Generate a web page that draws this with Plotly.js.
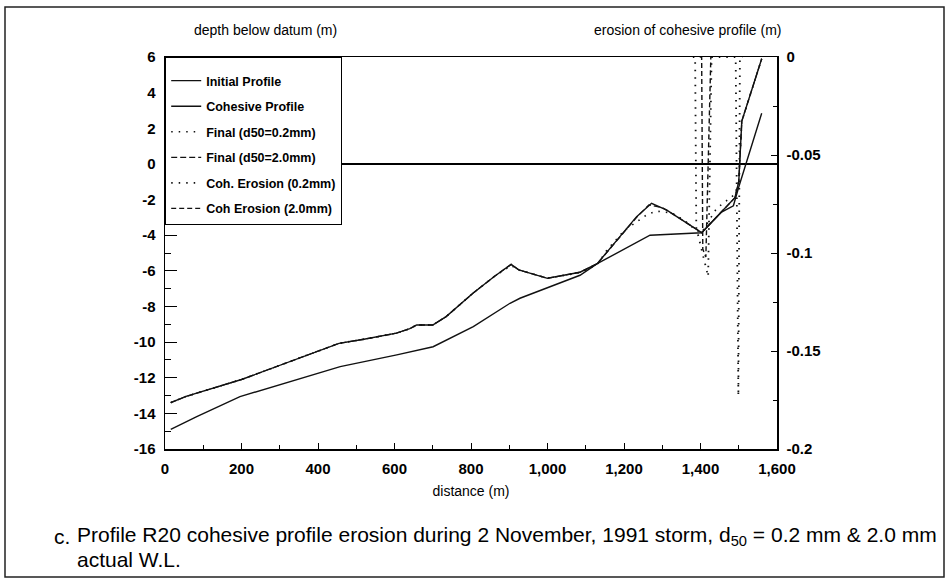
<!DOCTYPE html>
<html><head><meta charset="utf-8">
<script src="https://cdn.plot.ly/plotly-3.0.1.min.js"></script>
<style>html,body{margin:0;padding:0;background:#fff}#chart{width:951px;height:580px}</style>
</head><body><div id="chart"></div>
<script>
// ---- data ----
const initialDist  = [15, 55, 200, 300, 455, 520, 605, 640, 658, 700, 735, 805, 860, 905, 925, 1000, 1085, 1130, 1190, 1233, 1272, 1312, 1338, 1403, 1450, 1490, 1500, 1508, 1560];
const initialDepth = [-13.4, -13.05, -12.1, -11.3, -10.07, -9.84, -9.5, -9.25, -9.04, -9.04, -8.57, -7.26, -6.33, -5.64, -5.95, -6.42, -6.08, -5.6, -4.08, -2.96, -2.21, -2.59, -2.96, -3.86, -2.8, -1.9, -1.0, 2.4, 5.9];

const cohesiveDist  = [15, 83, 196, 301, 458, 606, 701, 806, 902, 928, 1085, 1130, 1268, 1403, 1455, 1486, 1500, 1560];
const cohesiveDepth = [-14.9, -14.18, -13.06, -12.4, -11.38, -10.72, -10.26, -9.13, -7.82, -7.54, -6.25, -5.6, -4.0, -3.86, -2.7, -2.35, -1.3, 2.84];

const final02Dist  = [15, 55, 200, 300, 455, 520, 605, 640, 658, 700, 735, 805, 860, 905, 925, 1000, 1085, 1130, 1155, 1200, 1242, 1260, 1285, 1325, 1360, 1386, 1403, 1442, 1490, 1500, 1508, 1560];
const final02Depth = [-13.4, -13.05, -12.1, -11.3, -10.07, -9.84, -9.5, -9.25, -9.04, -9.04, -8.57, -7.26, -6.33, -5.7, -5.95, -6.42, -6.1, -5.65, -4.85, -3.75, -3.1, -2.85, -2.65, -2.75, -3.2, -3.7, -3.86, -2.5, -1.7, -1.0, 2.4, 5.9];

const final20Dist  = [15, 55, 200, 300, 455, 520, 605, 640, 658, 700, 735, 805, 860, 905, 925, 1000, 1085, 1130, 1190, 1233, 1265, 1300, 1338, 1403, 1450, 1490, 1500, 1508, 1560];
const final20Depth = [-13.4, -13.05, -12.1, -11.3, -10.07, -9.84, -9.5, -9.25, -9.04, -9.04, -8.57, -7.26, -6.33, -5.64, -5.95, -6.42, -6.08, -5.6, -4.1, -3.0, -2.3, -2.45, -2.95, -3.86, -2.8, -1.9, -1.0, 2.4, 5.9];

const eros02Dist = [1380, 1386, 1389, 1420, 1429, 1492, 1499, 1503, 1510];
const eros02Val  = [0, 0, -0.087, -0.112, 0, 0, -0.173, 0, 0];
const eros20Dist = [1398, 1403, 1406, 1414, 1427, 1432];
const eros20Val  = [0, 0, -0.098, -0.102, 0, 0];

const xTickVals = [0, 200, 400, 600, 800, 1000, 1200, 1400, 1600];
const xTickText = ["0", "200", "400", "600", "800", "1,000", "1,200", "1,400", "1,600"];
const leftTickVals = [-16, -14, -12, -10, -8, -6, -4, -2, 0, 2, 4, 6];
const leftTickText = ["-16", "-14", "-12", "-10", "-8", "-6", "-4", "-2", "0", "2", "4", "6"];
const rightTickVals = [-0.2, -0.15, -0.1, -0.05, 0];
const rightTickText = ["-0.2", "-0.15", "-0.1", "-0.05", "0"];

// ---- layout helpers ----
const W = 951, H = 580;
const M = {l: 165, r: 174, t: 57, b: 131};
const PW = W - M.l - M.r, PH = H - M.t - M.b;
const px = p => (p - M.l) / PW;
const py = p => (H - M.b - p) / PH;

const FONT = 'Liberation Sans, Arial, Helvetica, sans-serif';
const tickFont = {family: FONT, size: 15, color: '#000', weight: 'bold'};
const ink = '#111';

const traces = [
  {x: initialDist, y: initialDepth, name: 'Initial Profile', mode: 'lines', legendgroup: 'g1',
   line: {color: ink, width: 1.4}},
  {x: cohesiveDist, y: cohesiveDepth, name: 'Cohesive Profile', mode: 'lines', legendgroup: 'g2',
   line: {color: ink, width: 1.4}},
  {x: final02Dist, y: final02Depth, name: 'Final (d50=0.2mm)', mode: 'lines', legendgroup: 'g3',
   line: {color: ink, width: 1.6, dash: '1.5px,6px'}},
  {x: final20Dist, y: final20Depth, name: 'Final (d50=2.0mm)', mode: 'lines', legendgroup: 'g4',
   line: {color: ink, width: 1.3, dash: '6px,3px'}},
  {x: eros02Dist, y: eros02Val, name: 'Coh. Erosion (0.2mm)', mode: 'lines', legendgroup: 'g5', yaxis: 'y2',
   line: {color: ink, width: 1.8, dash: '1.5px,6px'}},
  {x: eros20Dist, y: eros20Val, name: 'Coh Erosion (2.0mm)', mode: 'lines', legendgroup: 'g6', yaxis: 'y2',
   line: {color: ink, width: 1.4, dash: '5px,3px'}}
];

const annText = (text, x, y, size, xanchor) => ({
  text: text, xref: 'paper', yref: 'paper', x: px(x), y: py(y),
  xanchor: xanchor || 'center', yanchor: 'middle', showarrow: false,
  font: {family: FONT, size: size, color: '#000'}
});

const layout = {
  width: W, height: H,
  margin: M,
  paper_bgcolor: '#fff', plot_bgcolor: '#fff',
  showlegend: true,
  legend: {x: 0, y: 1, xanchor: 'left', yanchor: 'top', bgcolor: '#fff',
    bordercolor: '#000', borderwidth: 1.2, traceorder: 'grouped', tracegroupgap: 6.3,
    title: {text: '\u00a0', font: {family: FONT, size: 6, color: '#fff'}},
    font: {family: FONT, size: 12.5, color: '#000', weight: 'bold'}},
  xaxis: {range: [0, 1600], showline: true, linecolor: '#000', linewidth: 1.5, mirror: true,
    ticks: 'inside', ticklen: 6, tickcolor: '#000', tickwidth: 1,
    tickmode: 'array', tickvals: xTickVals, ticktext: xTickText, ticklabelstandoff: 5,
    minor: {ticks: 'inside', dtick: 100, ticklen: 4, tickcolor: '#000'},
    showgrid: false, zeroline: false, automargin: false, tickfont: tickFont,
    title: {text: 'distance (m)', font: {family: FONT, size: 14, color: '#000'}, standoff: 10}},
  yaxis: {range: [-16, 6], showline: true, linecolor: '#000', linewidth: 1.5,
    ticks: 'inside', ticklen: 12, tickcolor: '#000', tickwidth: 1,
    tickmode: 'array', tickvals: leftTickVals, ticktext: leftTickText, ticklabelstandoff: 5,
    minor: {ticks: 'inside', dtick: 1, ticklen: 6, tickcolor: '#000'},
    showgrid: false, zeroline: true, zerolinecolor: '#000', zerolinewidth: 1.8,
    automargin: false, tickfont: tickFont},
  yaxis2: {overlaying: 'y', side: 'right', range: [-0.2, 0], showline: true, linecolor: '#000', linewidth: 1.5,
    ticks: 'inside', ticklen: 6, tickcolor: '#000', tickwidth: 1,
    tickmode: 'array', tickvals: rightTickVals, ticktext: rightTickText, ticklabelstandoff: 5,
    minor: {ticks: 'inside', dtick: 0.025, ticklen: 4, tickcolor: '#000'},
    showgrid: false, zeroline: false, automargin: false, tickfont: tickFont},
  annotations: [
    annText('depth below datum (m)', 265, 30, 14),
    annText('erosion of cohesive profile (m)', 688, 30, 14),
    annText('c.', 52, 536, 21, 'left'),
    annText('Profile R20 cohesive profile erosion during 2 November, 1991 storm, d<sub>50</sub> = 0.2 mm &amp; 2.0 mm', 75, 536, 21, 'left'),
    annText('actual W.L.', 75, 559, 21, 'left')
  ],
  shapes: [
    {type: 'rect', xref: 'paper', yref: 'paper', x0: px(5), x1: px(944), y0: py(577), y1: py(7),
     line: {color: '#222', width: 1.5}, fillcolor: 'rgba(0,0,0,0)', layer: 'below'}
  ]
};

Plotly.newPlot('chart', traces, layout, {staticPlot: true, displayModeBar: false});
</script>
</body></html>
